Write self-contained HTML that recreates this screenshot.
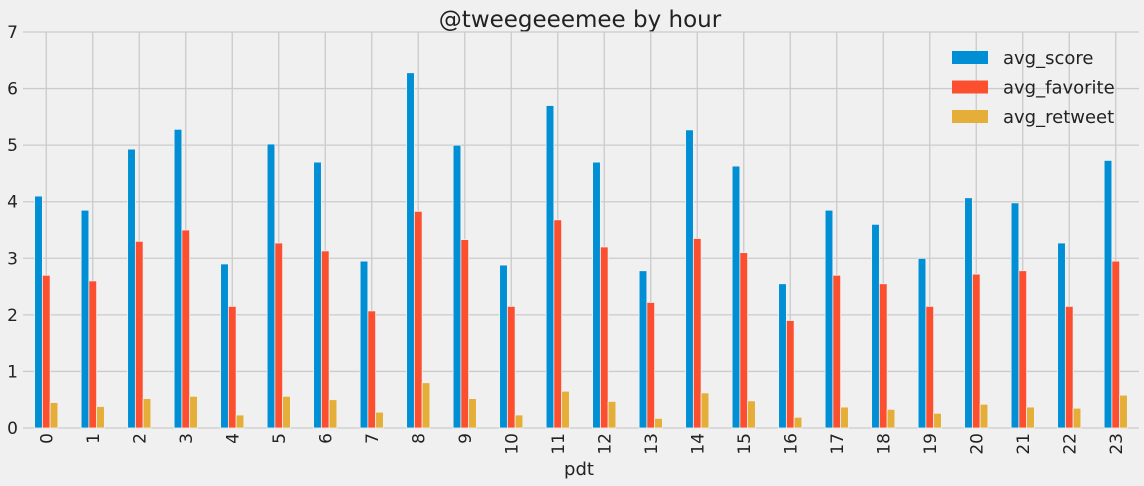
<!DOCTYPE html>
<html><head><meta charset="utf-8"><style>
body{margin:0;background:#f0f0f0;}
svg{display:block;font-family:"DejaVu Sans","Liberation Sans",sans-serif;}
</style></head><body>
<svg id="chart" width="1144" height="486">
<rect width="1144" height="486" fill="#f0f0f0"/>
<text x="580" y="27" font-size="23" text-anchor="middle" fill="#222">@tweegeeemee by hour</text>
<g id="grid"></g><g id="bars"></g><g id="ticks"></g>
<text x="579" y="475" font-size="18" text-anchor="middle" fill="#222">pdt</text>
<g id="legend"></g>
</svg>
<script>
const categories=["0","1","2","3","4","5","6","7","8","9","10","11","12","13","14","15","16","17","18","19","20","21","22","23"];
const avgScore=[4.1,3.85,4.93,5.28,2.9,5.02,4.7,2.95,6.28,5.0,2.88,5.7,4.7,2.78,5.27,4.63,2.55,3.85,3.6,3.0,4.07,3.98,3.27,4.73];
const avgFavorite=[2.7,2.6,3.3,3.5,2.15,3.27,3.13,2.07,3.83,3.33,2.15,3.68,3.2,2.22,3.35,3.1,1.9,2.7,2.55,2.15,2.72,2.78,2.15,2.95];
const avgRetweet=[0.45,0.38,0.52,0.56,0.23,0.56,0.5,0.28,0.8,0.52,0.23,0.65,0.47,0.17,0.62,0.48,0.19,0.37,0.33,0.26,0.42,0.37,0.35,0.58];
const yTicks=[0,1,2,3,4,5,6,7];
const seriesNames=["avg_score","avg_favorite","avg_retweet"];
const colors=["#008fd5","#fc4f30","#e5ae38"];
const NS="http://www.w3.org/2000/svg";
const x0=23,x1=1139,yb=428,yt=32,ymax=7;
const step=(x1-x0)/categories.length;
const xc=i=>x0+step*(i+0.5);
const y=v=>yb-(v/ymax)*(yb-yt);
function mk(tag,attrs,parent){const e=document.createElementNS(NS,tag);for(const k in attrs)e.setAttribute(k,attrs[k]);parent.appendChild(e);return e;}
const grid=document.getElementById('grid'),bars=document.getElementById('bars'),ticks=document.getElementById('ticks');
yTicks.forEach(t=>{
 const l=mk('line',{x1:x0,x2:x1,y1:y(t),y2:y(t),stroke:'#cbcbcb','stroke-width':1.3},grid);
 
 
 const tx=mk('text',{x:18,y:y(t)+6,'font-size':17,'text-anchor':'end',fill:'#222'},ticks);
 tx.textContent=t;
 
 
});
categories.forEach((c,i)=>{
 const l=mk('line',{x1:xc(i),x2:xc(i),y1:yt,y2:yb,stroke:'#cbcbcb','stroke-width':1.3},grid);
 
 
 const tx=mk('text',{transform:`translate(${xc(i)+6},${yb+5}) rotate(-90)`,'font-size':17,'text-anchor':'end',fill:'#222'},ticks);
 tx.textContent=c;
 
 
});
const series=[avgScore,avgFavorite,avgRetweet];
const bw=step*0.5/3;
series.forEach((s,si)=>{
 s.forEach((v,i)=>{
  const bx=xc(i)-step*0.25+si*bw;
  const r=mk('rect',{x:bx,y:y(v),width:bw,height:yb-y(v),fill:colors[si],stroke:'#f0f0f0','stroke-width':0.8},bars);
  
  
 });
});
const lg=document.getElementById('legend');
seriesNames.forEach((n,i)=>{
 const yy=57+i*29.5;
 const r=mk('rect',{x:952,y:yy-6,width:36,height:13,fill:colors[i]},lg);
 
 
 const t=mk('text',{x:1003,y:yy+7,'font-size':18,fill:'#222'},lg);
 t.textContent=n;
 
 
});
</script>
</body></html>
